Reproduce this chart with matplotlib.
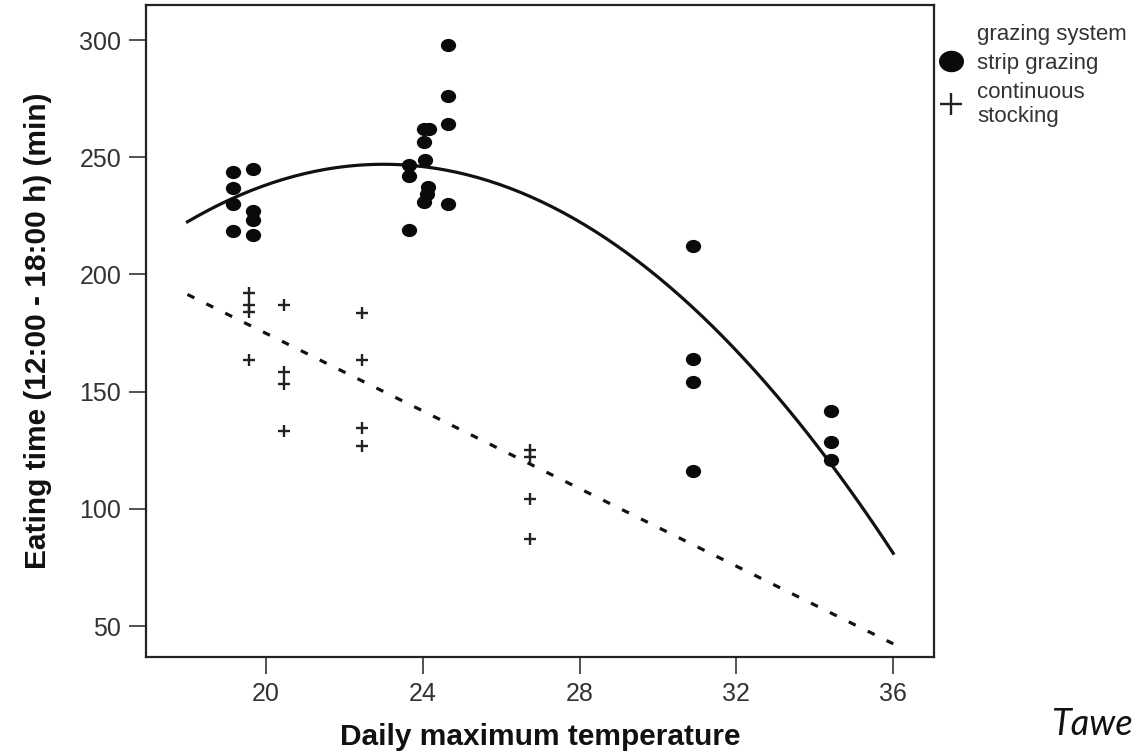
import matplotlib
matplotlib.use("Agg")
import matplotlib.pyplot as plt
import matplotlib.path as mpath
from matplotlib.transforms import Affine2D
from matplotlib.lines import Line2D
import numpy as np

# strip grazing (filled dots)
strip_x = [19.15, 19.15, 19.15, 19.15, 19.66, 19.66, 19.66, 19.66,
           23.66, 23.66, 23.66, 24.02, 24.15, 24.02, 24.05, 24.14, 24.1, 24.02,
           24.65, 24.65, 24.65, 24.65,
           30.9, 30.9, 30.9, 30.9,
           34.4, 34.4, 34.4]
strip_y = [243.7, 236.9, 230.2, 218.4, 245.2, 226.9, 223.1, 217.0,
           246.9, 242.0, 218.8, 262.0, 262.0, 256.3, 249.0, 237.3, 234.5, 230.9,
           297.9, 276.1, 264.0, 229.9,
           212.0, 164.0, 154.3, 116.2,
           141.9, 128.6, 121.0]

# continuous stocking (crosses)
stock_x = [19.56, 19.56, 19.56, 19.56,
           20.47, 20.47, 20.47, 20.47,
           22.45, 22.45, 22.45, 22.45,
           26.73, 26.73, 26.73, 26.73]
stock_y = [192.0, 187.0, 184.0, 163.7,
           186.8, 158.2, 153.3, 133.3,
           183.6, 163.7, 134.7, 126.9,
           125.0, 122.0, 104.0, 87.0]

# fitted lines
fit_range = [18, 36]
strip_fit_coef = [-0.982, 45.172, -272.478]   # quadratic
stock_fit_coef = [-8.28, 340.5]               # linear

x_ticks = [20, 24, 28, 32, 36]
y_ticks = [50, 100, 150, 200, 250, 300]

fig = plt.figure(figsize=(11.34, 7.53), dpi=100)
ax = fig.add_axes([0.129, 0.1275, 0.695, 0.866])

tick_font = ['Liberation Sans', 'DejaVu Sans']
label_font = ['Liberation Sans', 'DejaVu Sans']

xs = np.linspace(fit_range[0], fit_range[1], 200)
ax.plot(xs, np.polyval(strip_fit_coef, xs), color='#111111', lw=2.3)
ax.plot(xs, np.polyval(stock_fit_coef, xs), color='#111111', lw=2.3,
        dashes=(2.4, 4.2))

ellipse = mpath.Path.unit_circle().transformed(Affine2D().scale(1.0, 0.85))
strip_pts, = ax.plot(strip_x, strip_y, linestyle='none', marker=ellipse,
                     markersize=10, color='#0a0a0a')
stock_pts, = ax.plot(stock_x, stock_y, linestyle='none', marker='+',
                     markersize=9, markeredgewidth=1.7, color='#222222')

ax.set_xlim(16.95, 37.05)
ax.set_ylim(36.8, 315)
ax.set_xticks(x_ticks)
ax.set_yticks(y_ticks)
ax.tick_params(direction='out', length=12, width=1.3, color='#444444',
               labelsize=18, labelcolor='#333333', pad=6)
for lab in ax.get_xticklabels() + ax.get_yticklabels():
    lab.set_family(tick_font)
for sp in ax.spines.values():
    sp.set_linewidth(1.6)
    sp.set_color('#222222')

ax.set_xlabel('Daily maximum temperature', fontsize=21.5, fontweight='bold',
              family=label_font, color='#111111', labelpad=12)
ax.set_ylabel('Eating time (12:00 - 18:00 h) (min)', fontsize=21.5,
              fontweight='bold', family=label_font, color='#111111', labelpad=20)

# legend: first row acts as the title, aligned with the labels
blank = Line2D([], [], linestyle='none')
leg = ax.legend([blank, strip_pts, stock_pts],
                ['grazing system', 'strip grazing', 'continuous\nstocking'],
                loc='upper left', bbox_to_anchor=(0.821, 0.98),
                bbox_transform=fig.transFigure, frameon=False,
                prop={'family': tick_font, 'size': 16},
                markerscale=1.7, handlelength=1.0, handletextpad=0.68,
                labelspacing=0.35, borderaxespad=0.0)
for t in leg.get_texts():
    t.set_color('#333333')

fig.text(0.927, 0.024, 'Tawe', fontsize=26, style='italic',
         family=['Lato', 'DejaVu Sans'], color='#111111')

fig.savefig('out.png', dpi=100)
